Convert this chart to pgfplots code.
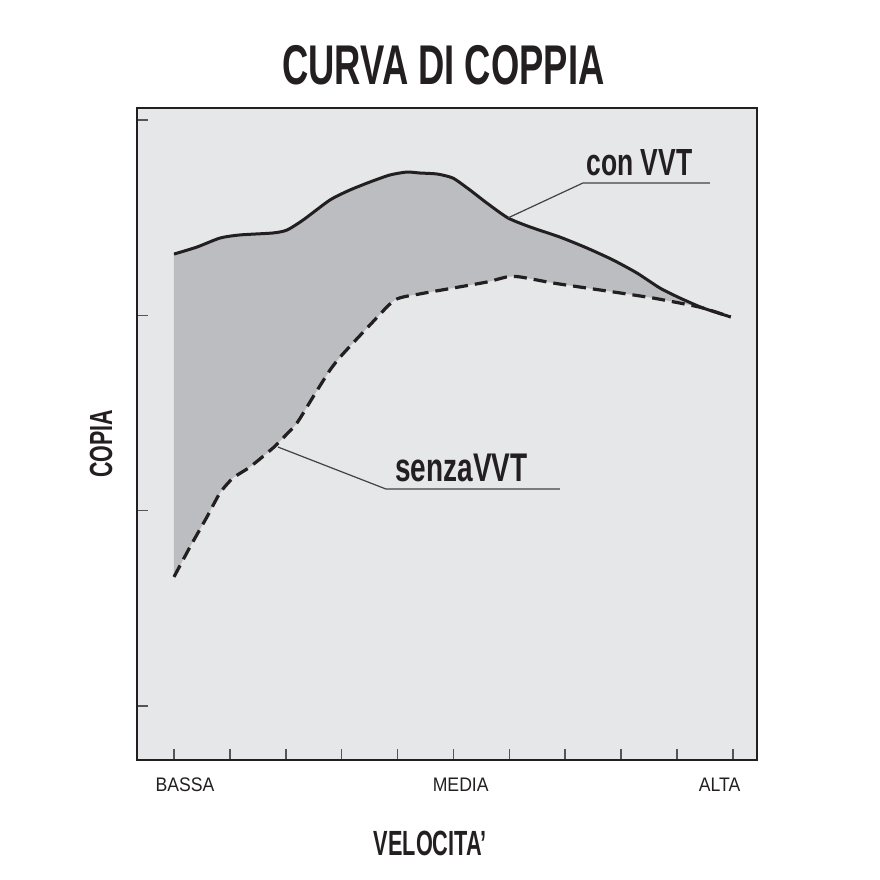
\documentclass[border=0pt]{standalone}
\usepackage{fontspec}
\setmainfont{Liberation Sans}
\newfontfamily\titlef[FakeStretch=0.65]{Liberation Sans}
\newfontfamily\labf[FakeStretch=0.70]{Liberation Sans}
\newfontfamily\copiaf[FakeStretch=0.67]{Liberation Sans}
\newfontfamily\velf[FakeStretch=0.62]{Liberation Sans}
\newfontfamily\tickf[FakeStretch=0.90]{Liberation Sans}
\usepackage{pgfplots}
\pgfplotsset{compat=1.18}
\usepgfplotslibrary{fillbetween}
\definecolor{bgcol}{HTML}{E6E7E8}
\definecolor{fillcol}{HTML}{BCBDC0}
\definecolor{ink}{HTML}{231F20}
\definecolor{tickcol}{HTML}{555555}

\begin{document}
\begin{tikzpicture}
\begin{axis}[
    scale only axis,
    width=310pt, height=326pt,
    xmin=-0.662, xmax=10.429,
    ymin=-0.276, ymax=3.062,
    axis background/.style={fill=bgcol},
    axis line style={ink, line width=1pt},
    xtick={0,...,10}, ytick={0,1,2,3},
    xticklabels={}, yticklabels={},
    xtick pos=bottom, ytick pos=left,
    tick align=inside,
    major tick length=5.5pt,
    tick style={tickcol, line width=0.8pt},
    clip=false,
]
% con VVT
\addplot[name path=con, ink, line width=1.5pt, smooth, tension=0.4] coordinates {
    (0,2.314)(0.411,2.350)(0.823,2.396)(1.181,2.412)(1.771,2.422)
    (2.021,2.437)(2.308,2.488)(2.791,2.591)(3.148,2.642)(3.506,2.683)
    (3.864,2.719)(4.168,2.734)(4.401,2.729)(4.705,2.724)(4.991,2.703)
    (5.295,2.642)(5.599,2.575)(5.975,2.499)(6.369,2.453)(6.905,2.401)
    (7.388,2.345)(7.853,2.284)(8.283,2.217)(8.694,2.140)(9.052,2.089)
    (9.463,2.038)(9.96,1.992)
};
% senza VVT
\addplot[name path=senza, ink, line width=1.6pt, dash pattern=on 6.5pt off 3.5pt, smooth, tension=0.4] coordinates {
    (0,0.661)(0.286,0.814)(0.590,0.968)(0.823,1.091)(1.055,1.167)
    (1.360,1.224)(1.771,1.321)(1.950,1.372)(2.200,1.449)(2.487,1.582)
    (2.791,1.720)(3.005,1.797)(3.506,1.951)(3.953,2.079)(4.401,2.110)
    (4.991,2.140)(5.599,2.171)(5.957,2.197)(6.190,2.197)(6.780,2.166)
    (7.388,2.140)(7.979,2.115)(8.569,2.089)(9.052,2.063)(9.463,2.038)
    (9.96,1.992)
};
\addplot[fillcol, draw=none] fill between[of=con and senza];

% leader lines
\draw[ink!85, line width=0.6pt] (axis cs:5.975,2.499) -- (axis cs:7.317,2.678) -- (axis cs:9.589,2.678);
\draw[ink!85, line width=0.6pt] (axis cs:1.860,1.326) -- (axis cs:3.792,1.111) -- (axis cs:6.905,1.111);

\node[anchor=base, text=ink, font=\labf\bfseries\fontsize{18.9}{20}\selectfont, inner sep=0pt] at (axis cs:8.327,2.714) {con VVT};
\node[anchor=base, text=ink, font=\labf\bfseries\fontsize{20}{22}\selectfont, inner sep=0pt] at (axis cs:5.143,1.147) {senzaVVT};

% title and axis labels
\node[anchor=base, text=ink, font=\titlef\bfseries\fontsize{28}{32}\selectfont, inner sep=0pt] at (axis cs:4.82,3.180) {CURVA DI COPPIA};
\node[anchor=center, rotate=90, text=ink, font=\copiaf\bfseries\fontsize{16}{18}\selectfont, inner sep=0pt] at (axis cs:-1.306,1.342) {COPIA};
\node[anchor=base, text=ink, font=\velf\bfseries\fontsize{17.5}{20}\selectfont, inner sep=0pt] at (axis cs:4.585,-0.763) {VELOCITA’};

% tick labels
\node[anchor=base, text=ink, font=\tickf\fontsize{9.8}{11}\selectfont, inner sep=0pt] at (axis cs:0.197,-0.440) {BASSA};
\node[anchor=base, text=ink, font=\tickf\fontsize{9.8}{11}\selectfont, inner sep=0pt] at (axis cs:5.13,-0.440) {MEDIA};
\node[anchor=base, text=ink, font=\tickf\fontsize{9.8}{11}\selectfont, inner sep=0pt] at (axis cs:9.76,-0.440) {ALTA};

% page extent (white margins of the reference)
\path (axis cs:-3.113,-0.891) rectangle (axis cs:12.630,3.615);
\end{axis}
\end{tikzpicture}
\end{document}
